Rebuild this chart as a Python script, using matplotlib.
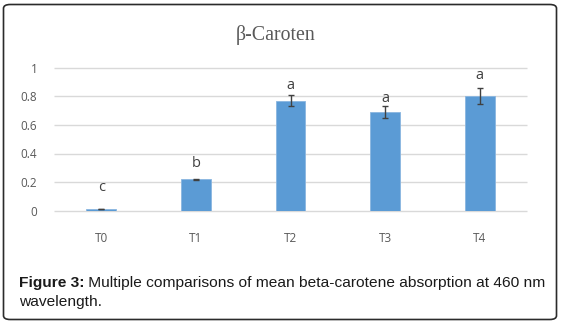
import matplotlib

matplotlib.use("Agg")
import matplotlib.pyplot as plt
from matplotlib.patches import FancyBboxPatch

# data
treatments = ["T0", "T1", "T2", "T3", "T4"]
mean_abs = [0.010, 0.220, 0.769, 0.690, 0.804]
err_abs = [0.001, 0.002, 0.038, 0.041, 0.056]
groups = ["c", "b", "a", "a", "a"]
group_label_y = [0.161, 0.327, 0.874, 0.783, 0.944]
y_ticks = [0, 0.2, 0.4, 0.6, 0.8, 1.0]
y_tick_labels = ["0", "0.2", "0.4", "0.6", "0.8", "1"]

BAR_COLOR = "#5b9bd5"
GRID_COLOR = "#d9d9d9"
TEXT_GRAY = "#595959"
CAPTION_SIZE = 11.15

plt.rcParams["font.family"] = ["Open Sans", "DejaVu Sans"]

fig = plt.figure(figsize=(5.64, 3.23), dpi=100)
ax = fig.add_axes([54 / 564, 1 - 210.7 / 323, 473 / 564, 143 / 323])

x = list(range(len(treatments)))
ax.set_xlim(-0.5, len(treatments) - 0.5)
ax.set_ylim(0, 1)

ax.hlines(y_ticks, -0.5, len(treatments) - 0.5, color=GRID_COLOR, linewidth=1.0,
          zorder=0, clip_on=False)
ax.bar(x, mean_abs, width=0.317, color=BAR_COLOR, edgecolor="#8ab6e0",
       linewidth=0.6, zorder=2)
ax.errorbar(x, mean_abs, yerr=err_abs, fmt="none", ecolor="#404040",
            elinewidth=1.0, capsize=2.5, capthick=1.0, zorder=3)

for xi, g, gy in zip(x, groups, group_label_y):
    ax.text(xi, gy, g, ha="center", va="center", fontsize=10.5, color="#404040")

for s in ax.spines.values():
    s.set_visible(False)
ax.set_yticks(y_ticks)
ax.set_yticklabels(y_tick_labels)
ax.set_xticks(x)
ax.set_xticklabels(treatments)
ax.tick_params(axis="both", length=0, labelsize=8.5, labelcolor=TEXT_GRAY)
ax.tick_params(axis="y", pad=12)
ax.tick_params(axis="x", pad=15)

fig.text(276 / 564, 1 - 35 / 323, "\u03b2-Caroten", ha="center", va="center",
         fontsize=14.3, color=TEXT_GRAY, family="Liberation Serif")

# caption: bold label followed by plain text
head = fig.text(19 / 564, 1 - 283.5 / 323, "Figure 3:", ha="left", va="center",
                fontsize=CAPTION_SIZE, fontweight="bold", family="Liberation Sans",
                color="#1a1a1a")
ax.annotate(" Multiple comparisons of mean beta-carotene absorption at 460 nm",
            xy=(1, 0.5), xycoords=head, ha="left", va="center",
            fontsize=CAPTION_SIZE, family="Liberation Sans", color="#1a1a1a",
            annotation_clip=False)
fig.text(19 / 564, 1 - 302 / 323, "wavelength.", ha="left", va="center",
         fontsize=CAPTION_SIZE, family="Liberation Sans", color="#1a1a1a")

border = FancyBboxPatch((3.5 / 564, 3.5 / 323), 553 / 564, 315 / 323,
                        boxstyle="round,pad=0,rounding_size=0.012",
                        transform=fig.transFigure, fill=False,
                        edgecolor="#2b2b2b", linewidth=1.2)
fig.patches.append(border)

fig.savefig("out.png", dpi=100)
